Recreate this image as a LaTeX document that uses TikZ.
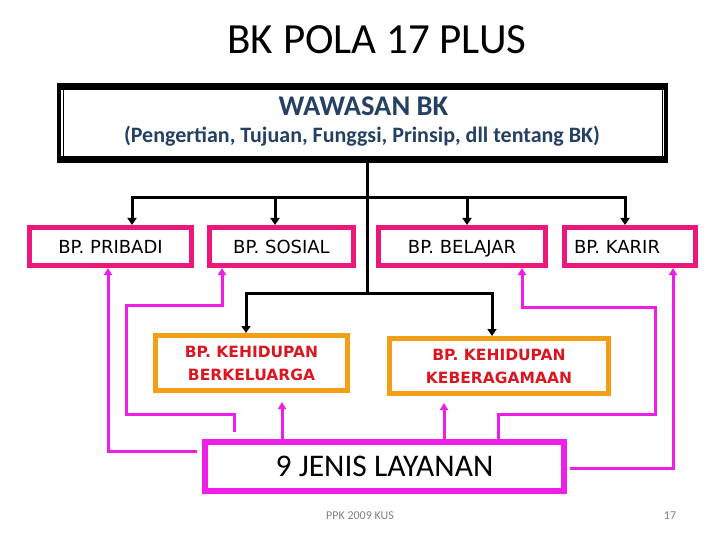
\documentclass[tikz,border=0pt]{standalone}
\usepackage{fontspec}
\setmainfont{Carlito}
\newfontfamily\dvs{DejaVu Sans}
\usetikzlibrary{arrows.meta}
\definecolor{boxpink}{RGB}{233,24,122}
\definecolor{mag}{RGB}{238,30,232}
\definecolor{orng}{RGB}{244,157,22}
\definecolor{redtxt}{RGB}{218,22,32}
\definecolor{navy}{RGB}{36,64,98}
\definecolor{footgray}{RGB}{128,128,128}
\begin{document}
\begin{tikzpicture}[x=1pt,y=-1pt,
  pinkbox/.style={draw=boxpink,line width=5pt,fill=white,inner sep=0pt,minimum height=38pt,
    font=\dvs\fontsize{18}{20}\selectfont,text height=13pt,text depth=0pt},
  orangebox/.style={draw=orng,line width=5pt,fill=white,inner sep=0pt,minimum height=55pt,align=center,
    text=redtxt,font=\dvs\bfseries\fontsize{15.5}{23}\selectfont},
  blkline/.style={line width=3pt,black},
  blkarrow/.style={blkline,-{Triangle[width=9pt,length=7pt]}},
  magline/.style={line width=3pt,mag},
  magarrow/.style={magline,-{Triangle[width=8pt,length=7pt]}},
]
\useasboundingbox (0,0) rectangle (720,540);
\fill[white] (0,0) rectangle (720,540);

% title
\node[anchor=base,inner sep=0pt,font=\fontsize{43}{50}\selectfont] (title) at (377,54) {BK POLA 17 PLUS};

% wawasan frame
\node[minimum width=611pt,minimum height=80pt,inner sep=0pt,outer sep=0pt] (wawasan) at (362.5,123) {};
\fill[black] (wawasan.north west) rectangle ([yshift=-7pt]wawasan.north east);
\fill[black] ([yshift=7pt]wawasan.south west) rectangle (wawasan.south east);
\fill[black] (wawasan.north west) rectangle ([xshift=4pt]wawasan.south west);
\fill[black] ([xshift=-4pt]wawasan.north east) rectangle (wawasan.south east);
\draw[line width=1pt] ([xshift=6pt]wawasan.north west) -- ([xshift=6pt]wawasan.south west);
\draw[line width=1pt] ([xshift=-6pt]wawasan.north east) -- ([xshift=-6pt]wawasan.south east);
\node[anchor=base,inner sep=0pt,text=navy,font=\bfseries\fontsize{28.5}{30}\selectfont] (wtitle) at (363.5,115.5) {WAWASAN BK};
\node[anchor=base,inner sep=0pt,text=navy,font=\bfseries\fontsize{22}{24}\selectfont] (wsub) at (362,142.5) {(Pengertian, Tujuan, Funggsi, Prinsip, dll tentang BK)};

% top row
\node[pinkbox,minimum width=162pt] (pribadi) at (110.5,246.5) {BP. PRIBADI};
\node[pinkbox,minimum width=144pt] (sosial) at (281.5,246.5) {BP. SOSIAL};
\node[pinkbox,minimum width=167pt] (belajar) at (462,246.5) {BP. BELAJAR};
\node[pinkbox,minimum width=131pt] (karir) at (630,246.5) {BP. KARIR\hspace*{26pt}};

% orange boxes
\node[orangebox,minimum width=192pt] (keluarga) at (251.5,363) {BP. KEHIDUPAN\\BERKELUARGA};
\node[orangebox,minimum width=219pt] (agama) at (499,366) {BP. KEHIDUPAN\\KEBERAGAMAAN};

% layanan
\node[draw=mag,line width=6pt,fill=white,minimum width=359pt,minimum height=49pt,inner sep=0pt,
  font=\fontsize{31.5}{36}\selectfont,text height=20.3pt,text depth=0pt] (layanan) at (384.5,466.5) {9 JENIS LAYANAN};

% footer
\node[anchor=base,inner sep=0pt,text=footgray,font=\fontsize{12}{14}\selectfont] (foot) at (360,519) {PPK 2009 KUS};
\node[anchor=base,inner sep=0pt,text=footgray,font=\fontsize{12}{14}\selectfont] (page) at (670,519) {17};

% black connectors
\coordinate (h1) at (367,198);
\coordinate (h2) at (367,293);
\draw[blkline] (wawasan.south -| h1) -- (h2);
\draw[blkline] ([xshift=21.5pt]pribadi.north |- h1) -- ([xshift=-5pt]karir.north |- h1);
\draw[blkarrow] (h1) -| ([xshift=21.5pt]pribadi.north);
\draw[blkarrow] (h1) -| ([xshift=-6.5pt]sosial.north);
\draw[blkarrow] (h1) -| ([xshift=5pt]belajar.north);
\draw[blkarrow] (h1) -| ([xshift=-5pt]karir.north);
\draw[blkarrow] (h2) -| ([xshift=-5.5pt]keluarga.north);
\draw[blkarrow] (h2) -| ([xshift=-7pt]agama.north);

% magenta connectors
\coordinate (s1) at (126,414);
\coordinate (s2) at (126,305);
\coordinate (b1) at (655,414);
\coordinate (b2) at (655,307);
\draw[magarrow,shorten <=5pt] ([yshift=15.5pt]layanan.west) -| ([xshift=-2.5pt]pribadi.south);
\draw[magarrow,shorten <=7pt] ([xshift=-150.5pt]layanan.north) |- (s1) -- (s2) -| ([xshift=-59.5pt]sosial.south);
\draw[magarrow,shorten >=9pt] ([xshift=-102.5pt]layanan.north) -- ([xshift=30.5pt]keluarga.south);
\draw[magarrow,shorten >=7pt] ([xshift=59.5pt]layanan.north) -- ([xshift=-55pt]agama.south);
\draw[magarrow] ([xshift=113.5pt]layanan.north) |- (b1) -- (b2) -| ([xshift=60pt]belajar.south);
\draw[magarrow,shorten <=3pt] ([yshift=-1.5pt]layanan.east) -| ([xshift=43pt]karir.south);
\end{tikzpicture}
\end{document}
